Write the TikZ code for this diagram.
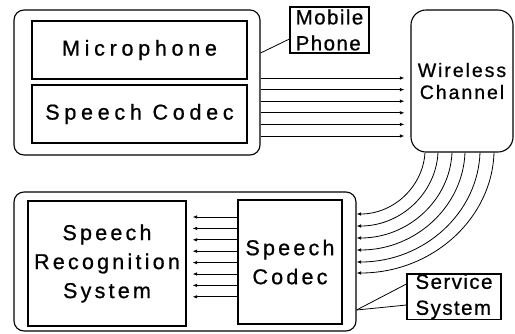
\documentclass[tikz,border=0pt]{standalone}
\usepackage{fontspec}
\setmainfont{Liberation Sans}
\usetikzlibrary{arrows.meta,calc}
\begin{document}
\begin{tikzpicture}[x=1pt,y=-1pt,
  box/.style={draw,line width=1.1pt,inner sep=0pt},
  frame/.style={draw,line width=1.1pt,inner sep=0pt,rounded corners=10pt},
  big/.style={font=\fontsize{21.5}{29}\selectfont\addfontfeature{LetterSpace=22,FakeBold=0.8}},
  mid/.style={font=\fontsize{21.5}{29}\selectfont\addfontfeature{LetterSpace=15,FakeBold=0.8}},
  chan/.style={font=\fontsize{19.5}{22}\selectfont\addfontfeature{LetterSpace=10,FakeBold=0.8}},
  lbl/.style={box,font=\fontsize{20.5}{26}\selectfont\addfontfeature{LetterSpace=7,FakeBold=0.8},align=left},
  sig/.style={line width=0.8pt,-{Latex[length=4.5pt,width=3.5pt]}},
  lead/.style={line width=0.8pt},
]
\useasboundingbox (0,0) rectangle (515,333);

% mobile phone
\node[frame,minimum width=246pt,minimum height=145pt] (phone) at (137,82.5) {};
\node[box,big,minimum width=215pt,minimum height=58pt] (mic) at (139.5,50) {Microphone};
\node[box,big,minimum width=215pt,minimum height=58pt] (enc) at (139.5,114) {Speech Codec};
\node[lbl,minimum width=79pt,minimum height=46pt] (mp) at (329.5,30) {Mobile\\Phone};
\draw[lead] (phone.east |- 0,53) -- (mp.west |- 0,39);

% wireless channel
\node[draw,line width=1.1pt,rounded corners=15pt,minimum width=102pt,minimum height=142pt,
      chan,align=center] (wc) at (462,81) {Wireless\\Channel};

% service system
\node[frame,minimum width=342pt,minimum height=139pt] (svc) at (185,261.5) {};
\node[box,mid,align=center,minimum width=158pt,minimum height=125pt] (srs) at (107,263.5)
  {Speech\\Recognition\\System};
\node[box,mid,align=center,minimum width=104pt,minimum height=124pt] (dec) at (290,262)
  {Speech\\Codec};
\node[lbl,minimum width=94pt,minimum height=45pt] (sl) at (454,296.5) {Service\\System};
\draw[lead] (svc.east |- 0,310) -- (sl.west |- 0,284);
\draw[lead] (svc.east |- 0,310) -- (sl.west |- 0,305);

% uplink: phone to channel
\foreach \y in {78,89.6,101.2,112.8,124.4,136}
  \draw[sig,shorten >=6pt] (phone.east |- 0,\y) -- (wc.west |- 0,\y);

% downlink: channel to service system
\foreach \xs/\ye in {425/214,438/226,452/238,465/250,480/262,494/273} {
  \pgfmathsetmacro\cy{152+0.552*(\ye-152)}
  \pgfmathsetmacro\cx{356+0.552*(\xs-356)}
  \draw[sig] (wc.south -| \xs,0) .. controls (\xs-2,\cy) and (\cx,\ye) .. (svc.east |- 0,\ye);
}

% decoder to recogniser
\foreach \y in {217,228.4,239.8,251.2,262.6,274,285.4,296.8}
  \draw[sig,shorten >=6pt] (dec.west |- 0,\y) -- (srs.east |- 0,\y);
\end{tikzpicture}
\end{document}
